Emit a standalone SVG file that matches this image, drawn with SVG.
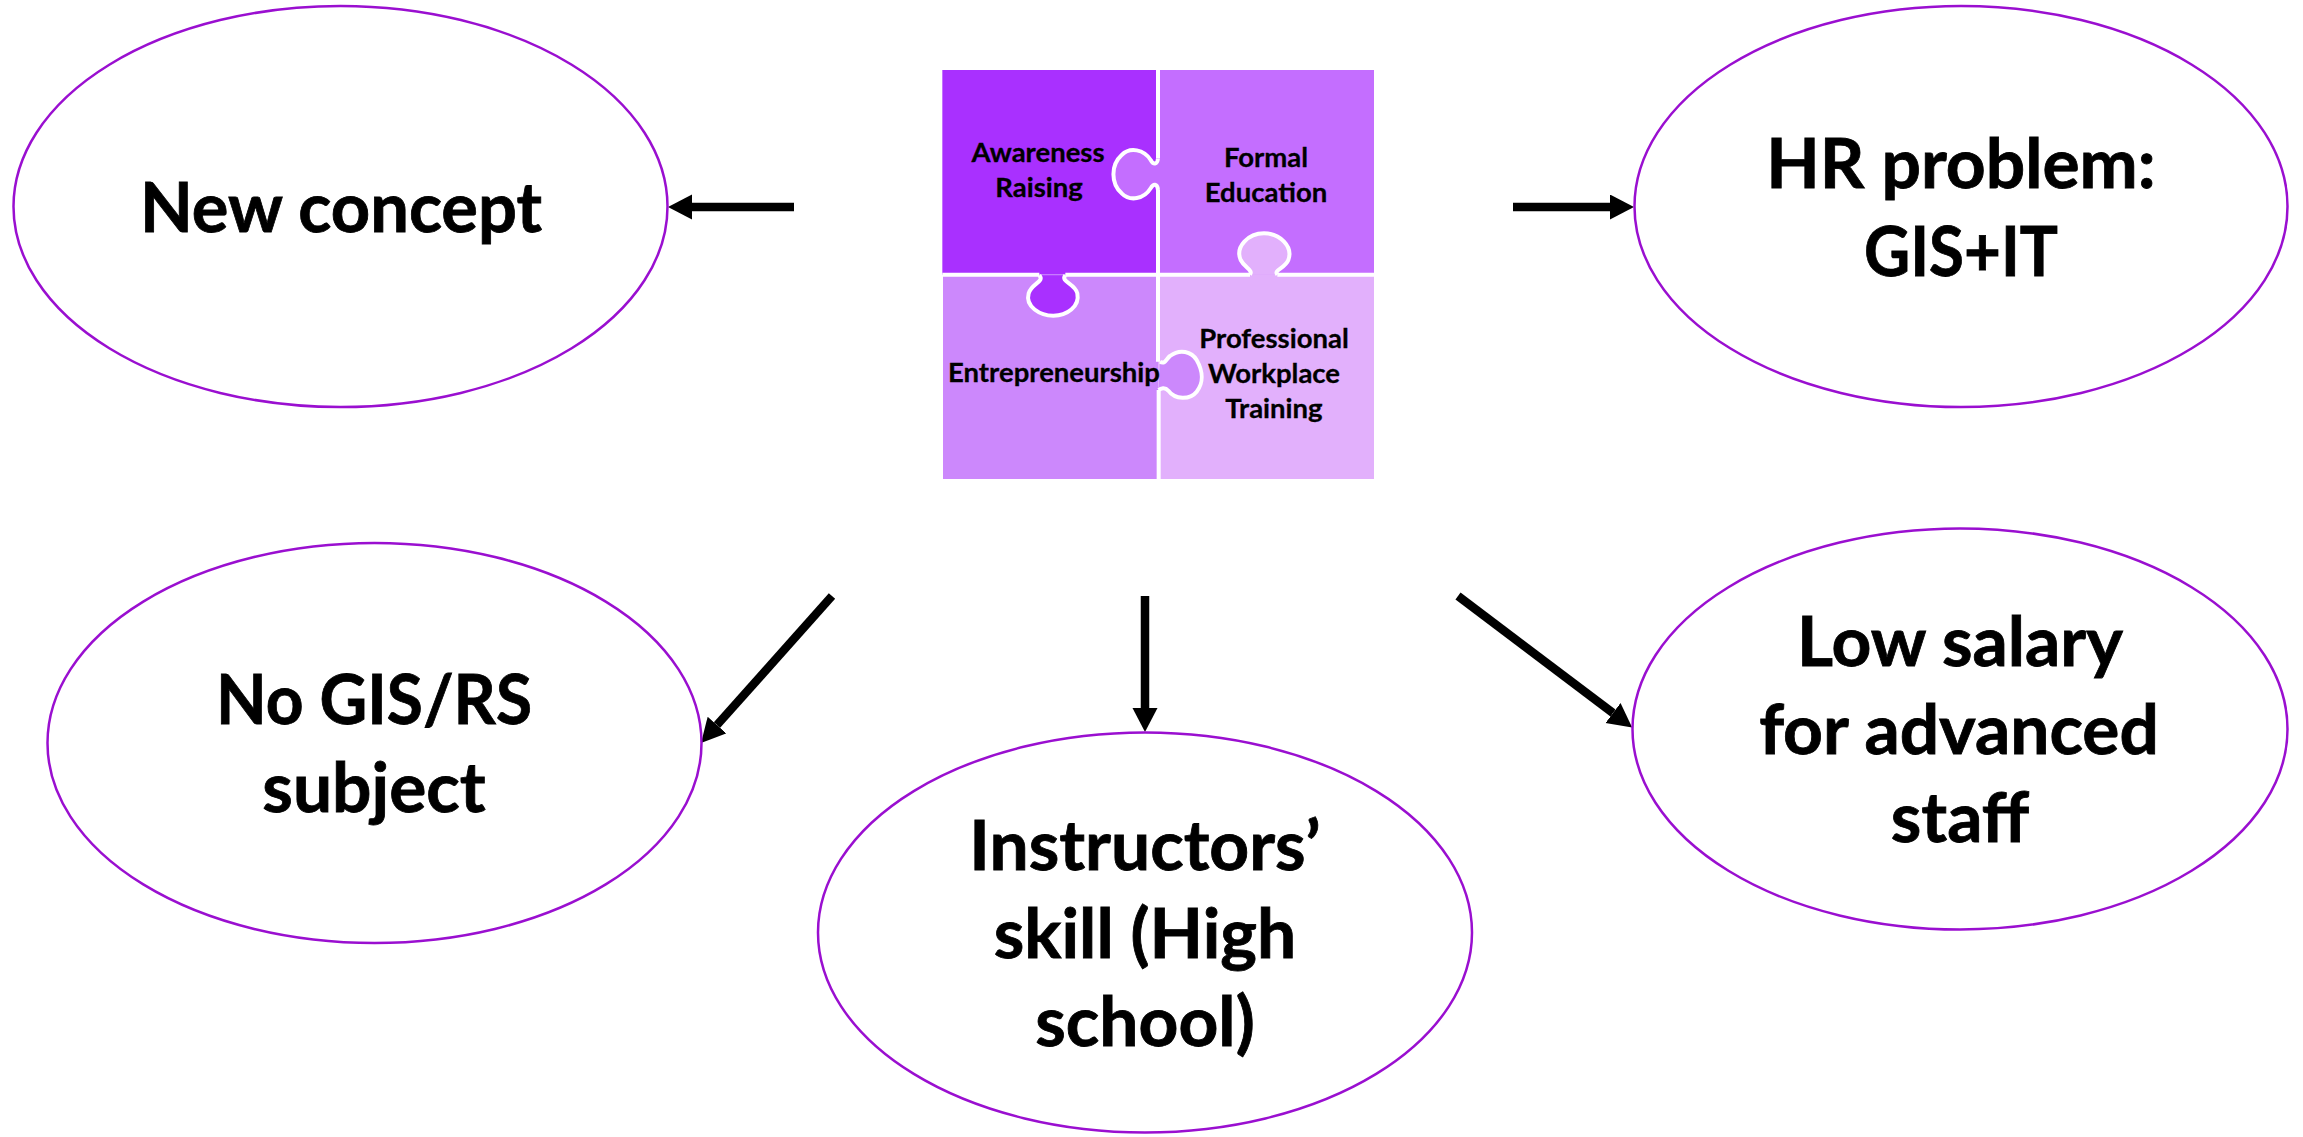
<svg xmlns="http://www.w3.org/2000/svg" width="2303" height="1137" viewBox="0 0 2303 1137">
<defs>
<style>
.n{fill:#fff;stroke:#9a0fd0;stroke-width:2.5}
.t{font-family:Lato,"Liberation Sans",sans-serif;font-weight:700;font-size:69.5px;fill:#000;stroke:#000;stroke-width:.8;text-anchor:middle}
.s{font-family:Lato,"Liberation Sans",sans-serif;font-weight:700;font-size:27.5px;fill:#000;stroke:#000;stroke-width:.3;text-anchor:middle}
.seam{fill:none;stroke:#fff;stroke-width:12;stroke-linejoin:round}
.c{fill:none;stroke:#000;stroke-width:8.500;marker-end:url(#a)}
</style>
<marker id="a" markerUnits="userSpaceOnUse" markerWidth="26" markerHeight="26" refX="0" refY="12.500" orient="auto"><path d="M0 0L24 12.500L0 25Z" fill="#000"/></marker>
</defs>
<rect width="2303" height="1137" fill="#fff"/>
<g id="connectors">
<path class="c" d="M794 207H692"/>
<path class="c" d="M1513 207H1610"/>
<path class="c" d="M832 596L717 725"/>
<path class="c" d="M1145 596V708"/>
<path class="c" d="M1458 596L1613 713"/>
</g>
<g id="n-new-concept"><ellipse class="n" cx="340.500" cy="206.500" rx="327" ry="200.500"/><text class="t" x="341" y="232" textLength="402" lengthAdjust="spacingAndGlyphs">New concept</text></g>
<g id="n-hr"><ellipse class="n" cx="1961" cy="206.500" rx="326.500" ry="200.500"/><text class="t" x="1961" y="188">HR problem:</text><text class="t" x="1961" y="276" textLength="194" lengthAdjust="spacingAndGlyphs">GIS+IT</text></g>
<g id="n-no-gis"><ellipse class="n" cx="374.500" cy="743" rx="327" ry="200"/><text class="t" x="374" y="724" textLength="316" lengthAdjust="spacingAndGlyphs">No GIS/RS</text><text class="t" x="374" y="812">subject</text></g>
<g id="n-instructors"><ellipse class="n" cx="1145" cy="932.500" rx="327" ry="200"/><text class="t" x="1145" y="870">Instructors’</text><text class="t" x="1145" y="958">skill (High</text><text class="t" x="1145" y="1046">school)</text></g>
<g id="n-salary"><ellipse class="n" cx="1960" cy="729" rx="327.500" ry="200.500"/><text class="t" x="1960" y="666">Low salary</text><text class="t" x="1959" y="754">for advanced</text><text class="t" x="1960" y="842">staff</text></g>
<g id="n-puzzle">
<g transform="translate(920 50) scale(.33333)">
<rect x="67" y="60" width="647" height="614" fill="#a930ff"/>
<rect x="714" y="60" width="648" height="614" fill="#c46eff"/>
<rect x="69" y="674" width="645" height="613" fill="#cc88fc"/>
<rect x="714" y="674" width="648" height="613" fill="#e2b0fc"/>
<path class="seam" style="fill:#c46eff" d="M714 325C712 345 700 345 692 330C672 298 630 290 605 315C572 345 572 400 605 430C630 455 672 448 692 415C700 400 712 400 714 420"/>
<path style="fill:#e2b0fc" class="seam" d="M990 674C1000 660 975 655 962 630C945 590 985 550 1032 550C1080 550 1120 590 1105 630C1095 655 1060 660 1072 674"/>
<path style="fill:#a930ff" class="seam" d="M358 676C375 695 335 700 326 730C315 770 360 797 400 797C440 797 480 770 472 730C465 700 420 695 436 676"/>
<path style="fill:#cc88fc" class="seam" d="M720 935C735 945 740 925 750 918C780 895 815 905 830 930C850 965 850 1000 830 1025C810 1050 765 1050 745 1022C735 1010 722 1015 716 1020"/>
<path class="seam" d="M714 60V325M714 420V935M716 1020V1287M67 674H358M436 674H990M1072 674H1362"/>
</g>
<text class="s" x="1038" y="162">Awareness</text>
<text class="s" x="1039" y="197">Raising</text>
<text class="s" x="1266" y="167">Formal</text>
<text class="s" x="1266" y="202">Education</text>
<text class="s" x="1054" y="382">Entrepreneurship</text>
<text class="s" x="1274" y="348">Professional</text>
<text class="s" x="1274" y="383">Workplace</text>
<text class="s" x="1274" y="418">Training</text>
</g>
</svg>
